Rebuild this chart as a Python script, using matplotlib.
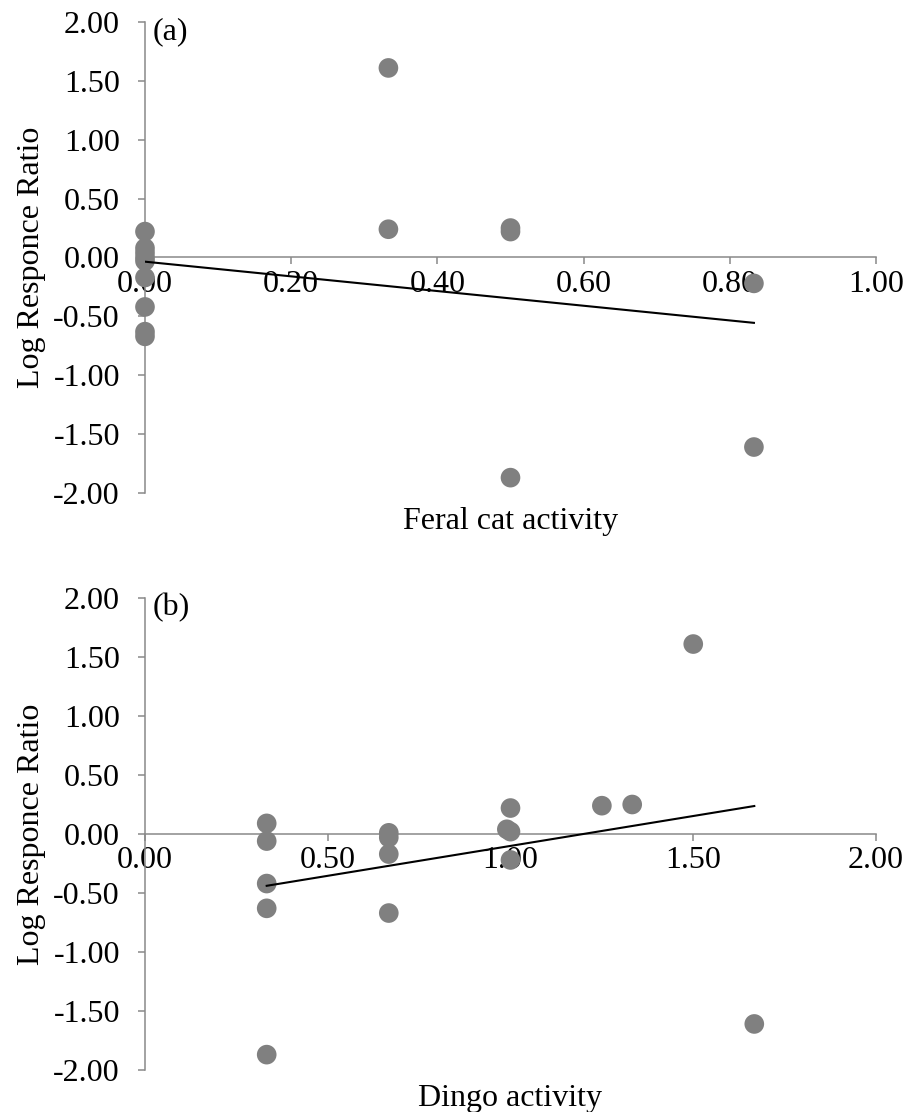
"""Log response ratio against feral cat and dingo activity, two stacked scatter panels with OLS trend lines."""

import matplotlib
matplotlib.use("Agg")
import matplotlib.pyplot as plt
import numpy as np

plt.rcParams["font.family"] = ["Liberation Serif", "DejaVu Serif"]

# Panel (a): feral cat activity
cat_x = [0.0, 0.0, 0.0, 0.0, 0.0, 0.0, 0.0, 0.0, 0.0,
         0.333, 0.333, 0.5, 0.5, 0.5, 0.833, 0.833]
cat_y = [0.22, 0.08, 0.04, 0.00, -0.03, -0.17, -0.42, -0.63, -0.67,
         1.61, 0.24, 0.25, 0.22, -1.87, -0.22, -1.61]

# Panel (b): dingo activity
dingo_x = [0.333, 0.333, 0.333, 0.333, 0.333,
           0.667, 0.667, 0.667, 0.667,
           0.99, 1.0, 1.0, 1.0, 1.25, 1.333, 1.5, 1.667]
dingo_y = [0.09, -0.06, -0.42, -0.63, -1.87,
           0.01, -0.03, -0.17, -0.67,
           0.04, 0.22, 0.02, -0.22, 0.24, 0.25, 1.61, -1.61]

y_ticks = [-2.0, -1.5, -1.0, -0.5, 0.0, 0.5, 1.0, 1.5, 2.0]
cat_xticks = [0.0, 0.2, 0.4, 0.6, 0.8, 1.0]
dingo_xticks = [0.0, 0.5, 1.0, 1.5, 2.0]

SPINE = "#898989"
DOT = "#808080"
FS = 23


def draw_panel(ax, x, y, xticks, xlabel, tag):
    x = np.asarray(x)
    y = np.asarray(y)
    ax.scatter(x, y, s=200, color=DOT, edgecolors="none", zorder=3,
               clip_on=False)
    slope, icpt = np.polyfit(x, y, 1)
    xs = np.array([x.min(), x.max()])
    ax.plot(xs, slope * xs + icpt, color="black", lw=1.5, zorder=4)

    ax.set_xlim(xticks[0], xticks[-1])
    ax.set_ylim(-2.0, 2.0)
    ax.set_xticks(xticks)
    ax.set_yticks(y_ticks)
    ax.set_xticklabels([f"{v:.2f}" for v in xticks])
    ax.set_yticklabels([f"{v:.2f}" for v in y_ticks])

    for side in ("top", "right"):
        ax.spines[side].set_visible(False)
    ax.spines["bottom"].set_position(("data", 0))
    for side in ("left", "bottom"):
        ax.spines[side].set_color(SPINE)
        ax.spines[side].set_linewidth(1.1)
    ax.tick_params(axis="both", direction="out", length=5, width=1.1,
                   color=SPINE, labelsize=FS, labelcolor="black")
    ax.tick_params(axis="y", pad=13)
    ax.tick_params(axis="x", pad=4)

    ax.set_xlabel(xlabel, fontsize=FS)
    ax.xaxis.set_label_coords(0.5, -0.030)
    ax.set_ylabel("Log Responce Ratio", fontsize=FS)
    ax.yaxis.set_label_coords(-0.135, 0.5)
    ax.text(0.011, 0.979, tag, transform=ax.transAxes, fontsize=FS,
            ha="left", va="center")


fig = plt.figure(figsize=(9.09, 11.12), dpi=100)
ax_a = fig.add_axes([0.1595, 0.5567, 0.8042, 0.4235])
ax_b = fig.add_axes([0.1595, 0.0378, 0.8042, 0.4244])

draw_panel(ax_a, cat_x, cat_y, cat_xticks, "Feral cat activity", "(a)")
draw_panel(ax_b, dingo_x, dingo_y, dingo_xticks, "Dingo activity", "(b)")

fig.savefig("out.png", dpi=100)
plt.close(fig)
